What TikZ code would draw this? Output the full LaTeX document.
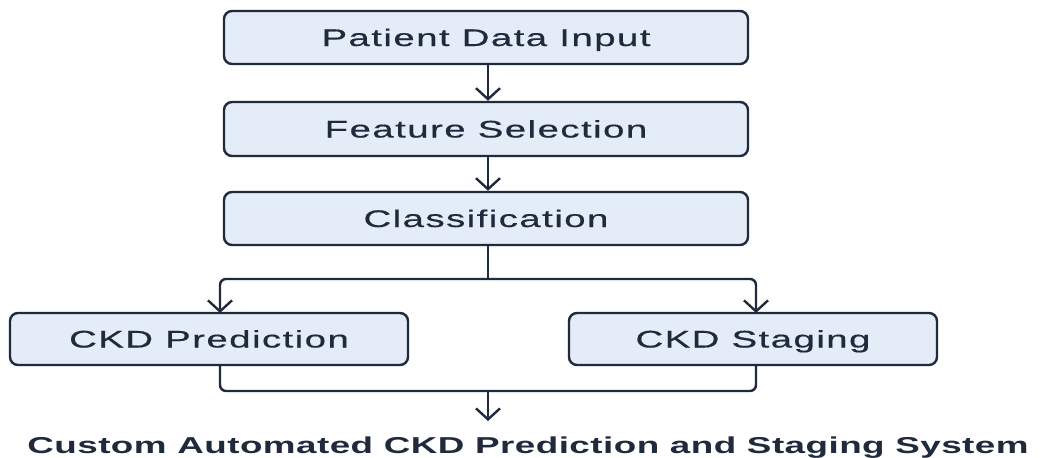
\documentclass[tikz,border=0pt]{standalone}
\usepackage{fontspec}
\setmainfont{Liberation Sans}[FakeStretch=1.6, LetterSpace=6, FakeBold=0.5]
\newfontfamily\titlefont{Liberation Sans Bold}[FakeStretch=1.6, LetterSpace=2]
\usetikzlibrary{arrows.meta}
\definecolor{boxfill}{HTML}{E4ECF7}
\definecolor{ink}{HTML}{1F2A3C}
\begin{document}
\begin{tikzpicture}[x=1pt,y=-1pt,
  flowbox/.style={draw=ink, line width=2.4pt, fill=boxfill, rounded corners=8pt, inner sep=0pt, text=ink, text height=17pt, text depth=0pt, font=\fontsize{24}{28}\selectfont},
  conn/.style={draw=ink, line width=2.4pt, rounded corners=6pt},
  arr/.style={conn, -{Straight Barb[length=11pt,width=24pt,line width=2.4pt]}}]
\useasboundingbox (0,0) rectangle (1045,458);
\node[flowbox, minimum width=524pt, minimum height=53pt] (p) at (486,37.5) {Patient Data Input};
\node[flowbox, minimum width=524pt, minimum height=54pt] (f) at (486,129) {Feature Selection};
\node[flowbox, minimum width=524pt, minimum height=53pt] (c) at (486,218.5) {Classification};
\node[flowbox, minimum width=398pt, minimum height=52pt] (cp) at (209,339) {CKD Prediction};
\node[flowbox, minimum width=368pt, minimum height=52pt] (cs) at (753,339) {CKD Staging};
\node[text=ink, inner sep=0pt, font=\titlefont\fontsize{23}{27}\selectfont, anchor=base] (t) at (528,453) {Custom Automated CKD Prediction and Staging System};
\coordinate (split) at (488,279);
\coordinate (join) at (488,391);
\coordinate (tin) at (488,421);
\draw[arr] (p.south -| split) -- (f.north -| split);
\draw[arr] (f.south -| split) -- (c.north -| split);
\draw[conn] (c.south -| split) -- (split);
\draw[arr] (split) -| (220,313);
\draw[arr] (split) -| (756,313);
\draw[conn] (220,365) |- (join);
\draw[conn] (756,365) |- (join);
\draw[arr] (join) -- (tin);
\end{tikzpicture}
\end{document}
